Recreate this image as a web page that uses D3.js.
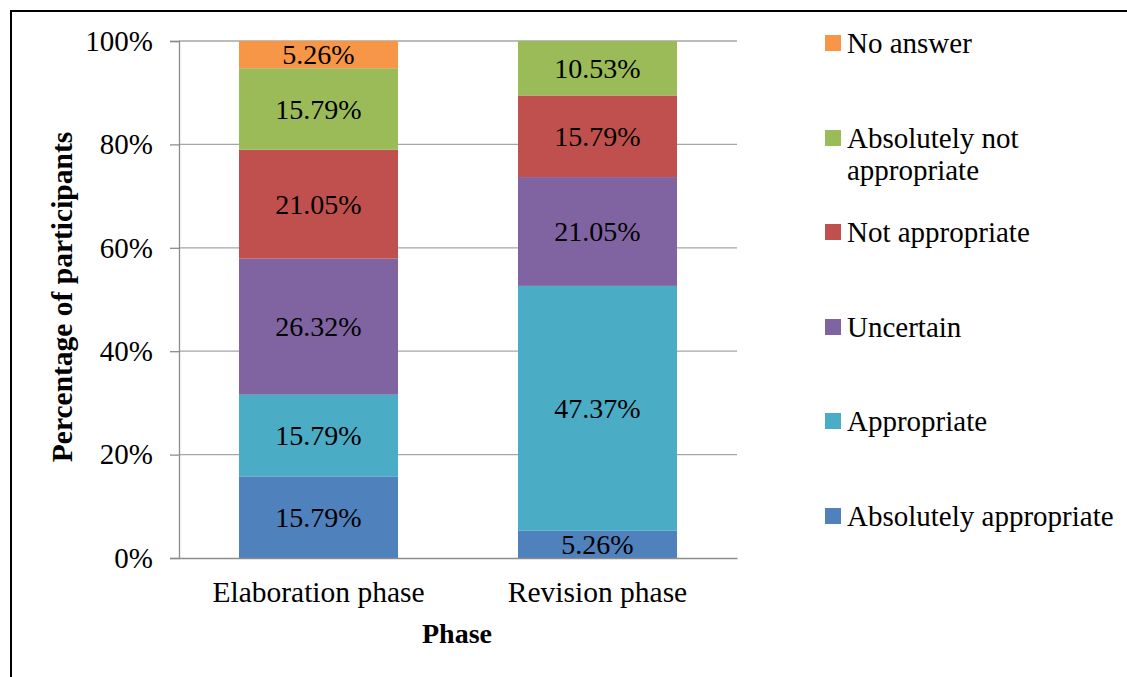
<!DOCTYPE html>
<html>
<head>
<meta charset="utf-8">
<script src="https://cdn.jsdelivr.net/npm/d3@7"></script>
<style>
  body { margin: 0; background: #fff; }
  text { font-family: "Liberation Serif", "Times New Roman", serif; fill: #000; }
</style>
</head>
<body>
<svg id="chart" width="1127" height="677"></svg>
<script>
// data
var phases = ["Elaboration phase", "Revision phase"];
var answers = ["Absolutely appropriate", "Appropriate", "Uncertain", "Not appropriate", "Absolutely not appropriate", "No answer"];
var colors = ["#4F81BD", "#4BACC6", "#8064A2", "#C0504D", "#9BBB59", "#F79646"];
var elaboration = [15.79, 15.79, 26.32, 21.05, 15.79, 5.26];
var revision = [5.26, 47.37, 21.05, 15.79, 10.53, 0];
var yTicks = [0, 20, 40, 60, 80, 100];

var svg = d3.select("#chart");

// frame (only top and left visible in original)
svg.append("line").attr("x1", 10).attr("y1", 11).attr("x2", 1127).attr("y2", 11)
  .attr("stroke", "#000").attr("stroke-width", 2);
svg.append("line").attr("x1", 11).attr("y1", 10).attr("x2", 11).attr("y2", 677)
  .attr("stroke", "#000").attr("stroke-width", 2);

var margin = { left: 179, top: 41, right: 737, bottom: 558 };

var x = d3.scaleBand().domain(phases).range([margin.left, margin.right]).paddingInner(0.43).paddingOuter(0.215);
var y = d3.scaleLinear().domain([0, 100]).range([margin.bottom, margin.top]);

// gridlines
svg.append("g").selectAll("line").data(yTicks.slice(1)).enter().append("line")
  .attr("x1", margin.left).attr("x2", margin.right)
  .attr("y1", d => y(d)).attr("y2", d => y(d))
  .attr("stroke", "#A6A6A6").attr("stroke-width", 1.3);

// stacked data
var rows = phases.map(function (p, i) {
  var vals = i == 0 ? elaboration : revision;
  var r = { phase: p };
  answers.forEach(function (a, j) { r[a] = vals[j]; });
  return r;
});
var series = d3.stack().keys(answers)(rows);

var groups = svg.append("g").selectAll("g").data(series).enter().append("g")
  .attr("fill", (d, i) => colors[i]);

groups.selectAll("rect").data(d => d).enter().append("rect")
  .attr("x", d => x(d.data.phase))
  .attr("width", x.bandwidth())
  .attr("y", d => y(d[1]))
  .attr("height", d => y(d[0]) - y(d[1]));

// value labels
groups.selectAll("text").data(d => d.filter(s => s[1] - s[0] > 0)).enter().append("text")
  .attr("x", d => x(d.data.phase) + x.bandwidth() / 2)
  .attr("y", d => (y(d[0]) + y(d[1])) / 2)
  .attr("dy", "0.35em")
  .attr("text-anchor", "middle")
  .style("font-size", "28px")
  .text(d => (d[1] - d[0]).toFixed(2) + "%");

// y axis
var yAxis = d3.axisLeft(y).tickValues(yTicks).tickSize(9).tickPadding(17).tickFormat(d => d + "%");
var gy = svg.append("g").attr("transform", "translate(" + margin.left + ",0)").call(yAxis);
gy.select(".domain").attr("stroke", "#8C8C8C").attr("stroke-width", 1.3);
gy.selectAll(".tick line").attr("stroke", "#8C8C8C").attr("stroke-width", 1.3);
gy.selectAll(".tick text").style("font-size", "29px");

// x axis
var xAxis = d3.axisBottom(x).tickSize(0).tickPadding(23);
var gx = svg.append("g").attr("transform", "translate(0," + margin.bottom + ")").call(xAxis);
gx.select(".domain").attr("stroke", "#8C8C8C").attr("stroke-width", 1.3);
gx.selectAll(".tick text").style("font-size", "29.5px");

// axis titles
svg.append("text").attr("x", 457).attr("y", 643).attr("text-anchor", "middle")
  .style("font-size", "28px").style("font-weight", "bold").text("Phase");
svg.append("text").attr("transform", "translate(72,297) rotate(-90)").attr("text-anchor", "middle")
  .style("font-size", "29.5px").style("font-weight", "bold").text("Percentage of participants");

// legend (top to bottom: reverse order)
var legendItems = [
  { name: "No answer", lines: ["No answer"], y: 43 },
  { name: "Absolutely not appropriate", lines: ["Absolutely not", "appropriate"], y: 138 },
  { name: "Not appropriate", lines: ["Not appropriate"], y: 232 },
  { name: "Uncertain", lines: ["Uncertain"], y: 327 },
  { name: "Appropriate", lines: ["Appropriate"], y: 421 },
  { name: "Absolutely appropriate", lines: ["Absolutely appropriate"], y: 516 }
];
var leg = svg.append("g").selectAll("g").data(legendItems).enter().append("g")
  .attr("transform", d => "translate(825," + d.y + ")");
leg.append("rect").attr("x", 0).attr("y", -8).attr("width", 16).attr("height", 16)
  .attr("fill", d => colors[answers.indexOf(d.name)]);
leg.append("text").attr("x", 22).style("font-size", "29px")
  .selectAll("tspan").data(d => d.lines).enter().append("tspan")
  .attr("x", 22).attr("y", (d, i) => i * 32).attr("dy", "0.35em").text(d => d);
</script>
</body>
</html>
